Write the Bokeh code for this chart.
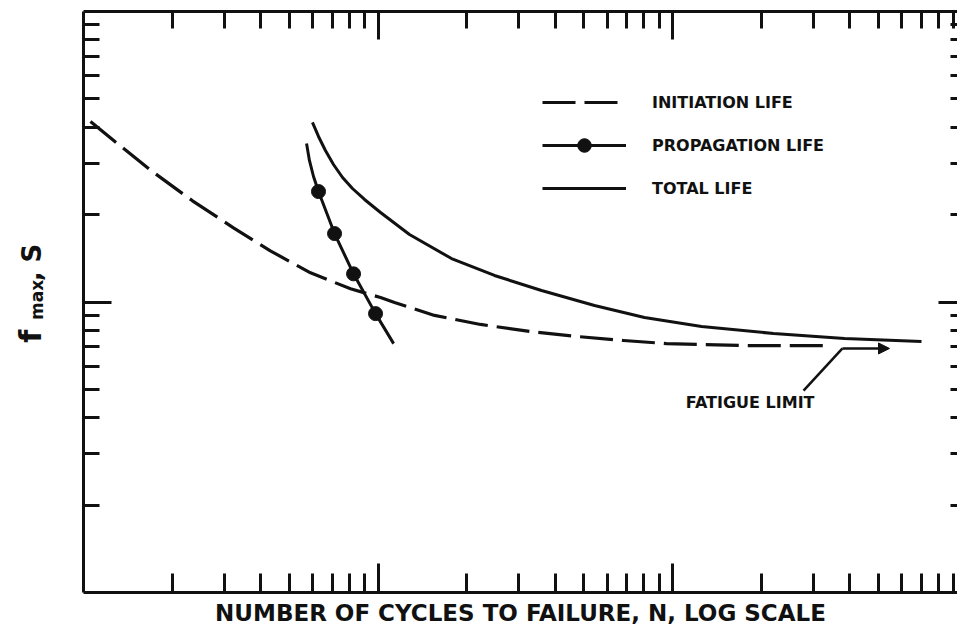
import math
from bokeh.plotting import figure
from bokeh.layouts import row
from bokeh.models import (LogAxis, FixedTicker, Range1d, Label, Legend, LegendItem,
                          Arrow, NormalHead)
from bokeh.core.properties import value
from bokeh.embed import file_html
from bokeh.resources import INLINE

# ---------------- data ----------------
init_N = [1.056, 1.254, 1.715, 2.345, 3.23, 4.31, 5.90, 8.07, 10.2, 11.38, 15.56, 22.29,
          32.95, 47.2, 68.2, 95.4, 125.5, 175.6, 240.1, 330.7]
init_S = [418, 362.6, 281, 223, 180, 150, 126, 111, 103.6, 99.6, 89.9, 83.7,
          79.1, 76.1, 73.7, 71.9, 71.4, 70.8, 70.8, 70.8]

prop_N = [5.72, 5.85, 6.04, 6.28, 7.12, 8.26, 9.81, 11.3]
prop_S = [351, 307, 270.4, 240, 172, 125, 91.2, 71.9]
prop_pts_N = [6.28, 7.12, 8.26, 9.81]
prop_pts_S = [240, 172, 125, 91.2]

total_N = [5.99, 6.28, 6.63, 7.06, 7.58, 8.19, 9.00, 10.20, 12.79, 17.77, 24.86, 35.92,
           54.35, 80.33, 125.5, 220.3, 383.7, 700.6]
total_S = [415, 371.4, 332.3, 297.4, 268.3, 245.9, 225.4, 203.3, 170.8, 141.1, 123.4, 109.5,
           97.3, 88.4, 82.4, 77.9, 74.9, 73.1]

arrow_N = [278.6, 377.7, 545.6]
arrow_S = [49.5, 69.2, 69.2]

x_major = [10, 100]
x_minor = [2, 3, 4, 5, 6, 7, 8, 9, 20, 30, 40, 50, 60, 70, 80, 90, 200, 300, 400, 500, 600, 700, 800, 900]
y_major = [100]
y_minor = [20, 30, 40, 50, 60, 70, 80, 90, 200, 300, 400, 500, 600, 700, 800, 900]

legend_labels = ["INITIATION LIFE", "PROPAGATION LIFE", "TOTAL LIFE"]
x_title = "NUMBER OF CYCLES TO FAILURE, N, LOG SCALE"
y_title_parts = ["f", "max", ", S"]
fatigue_text = "FATIGUE LIMIT"

FONT = "DejaVu Sans"
INK = "#111111"

# ---------------- main plot ----------------
p = figure(width=876, height=633, x_axis_type="log", y_axis_type="log",
           x_range=Range1d(1, 10 ** (874 / 294.5)), y_range=Range1d(10, 1000),
           output_backend="svg", toolbar_location=None,
           min_border_left=2, min_border_right=0, min_border_top=11, min_border_bottom=41,
           background_fill_color="white", border_fill_color="white",
           outline_line_color=None)
p.xgrid.visible = False
p.ygrid.visible = False


def style(ax, ticks, minor, major_in, minor_in, line=True):
    ax.ticker = FixedTicker(ticks=ticks, minor_ticks=minor)
    ax.major_tick_in = major_in
    ax.major_tick_out = 0
    ax.minor_tick_in = minor_in
    ax.minor_tick_out = 0
    ax.major_label_text_font_size = "0px"
    ax.major_label_standoff = 0
    ax.major_label_overrides = {t: "" for t in ticks}
    ax.axis_line_width = 3
    ax.axis_line_color = INK if line else None
    ax.major_tick_line_width = 3
    ax.minor_tick_line_width = 3
    ax.major_tick_line_color = INK
    ax.minor_tick_line_color = INK


bottom = p.below[0]
leftax = p.left[0]
style(bottom, x_major, x_minor, 29, 19)
style(leftax, y_major, y_minor, 28, 16)
top = LogAxis()
style(top, x_major, x_minor, 28, 17)
p.add_layout(top, "above")
right = LogAxis()
style(right, y_major, y_minor, 19, 7, line=False)
p.add_layout(right, "right")

bottom.axis_label = x_title
bottom.axis_label_text_font = FONT
bottom.axis_label_text_font_size = "23px"
bottom.axis_label_text_font_style = "bold"
bottom.axis_label_text_color = INK
bottom.axis_label_standoff = 7

# ---------------- curves ----------------
r_init = p.line(init_N, init_S, line_width=3.2, line_color=INK, line_dash="33 9",
                line_join="round")
r_prop = p.line(prop_N, prop_S, line_width=3, line_color=INK, line_join="round")
r_pts = p.scatter(prop_pts_N, prop_pts_S, size=14, marker="circle", fill_color=INK, line_color=INK)
r_total = p.line(total_N, total_S, line_width=3, line_color=INK, line_join="round")

# fatigue limit leader + arrow
p.line(arrow_N[:2], arrow_S[:2], line_width=2.5, line_color=INK)
p.add_layout(Arrow(end=NormalHead(size=11, fill_color=INK, line_color=INK, line_width=1),
                   x_start=arrow_N[1], y_start=arrow_S[1], x_end=arrow_N[2], y_end=arrow_S[2],
                   line_width=2.5, line_color=INK))
p.add_layout(Label(x=111, y=45.1, text=fatigue_text, text_align="left", text_baseline="middle",
                   text_font=FONT, text_font_size="16px", text_font_style="bold",
                   text_color=INK))

# legend
legend = Legend(items=[LegendItem(label=legend_labels[0], renderers=[r_init]),
                       LegendItem(label=legend_labels[1], renderers=[r_prop, r_pts]),
                       LegendItem(label=legend_labels[2], renderers=[r_total])],
                location=(459, 387), orientation="vertical",
                glyph_width=84, glyph_height=34, label_height=20, label_standoff=26, spacing=9,
                padding=0, margin=0, border_line_color=None, background_fill_alpha=0,
                label_text_font=FONT, label_text_font_size="16px", label_text_font_style="bold",
                label_text_color=INK)
p.add_layout(legend)

# ---------------- left strip with the rotated y title ----------------
lf = figure(width=81, height=633, x_range=Range1d(0, 81), y_range=Range1d(0, 633),
            output_backend="svg", toolbar_location=None, min_border=0,
            x_axis_location=None, y_axis_location=None, outline_line_color=None,
            background_fill_color="white", border_fill_color="white")
lf.xgrid.visible = False
lf.ygrid.visible = False
title_common = dict(angle=math.pi / 2, text_align="left", text_baseline="alphabetic",
                    text_font=value(FONT), text_font_style="bold", text_color=INK)
lf.text(x=[30], y=[272], text=[y_title_parts[0]], text_font_size=value("30px"), **title_common)
lf.text(x=[36], y=[297], text=[y_title_parts[1]], text_font_size=value("17px"), **title_common)
lf.text(x=[31], y=[339], text=[y_title_parts[2]], text_font_size=value("26px"), **title_common)

layout = row(lf, p, spacing=0)
open("out.html", "w").write(file_html(layout, INLINE))
